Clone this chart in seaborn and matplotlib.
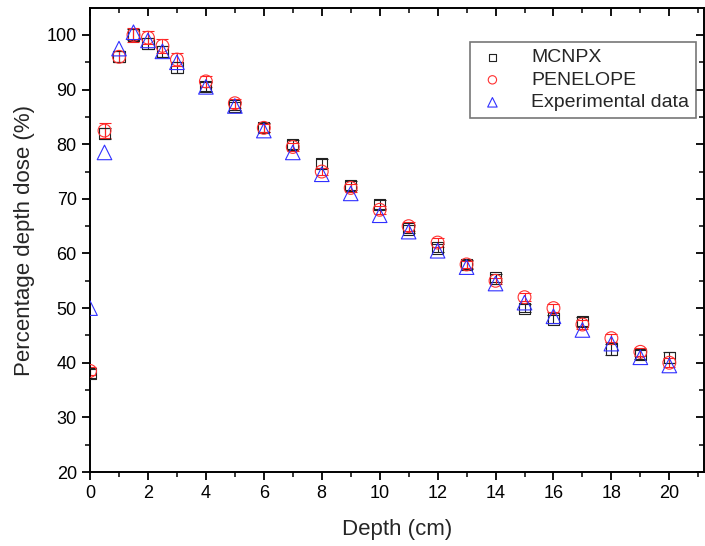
import numpy as np
import pandas as pd
import matplotlib
matplotlib.use("Agg")
import matplotlib.pyplot as plt
import seaborn as sns
from matplotlib.ticker import MultipleLocator

depth = [0, 0.5, 1, 1.5, 2, 2.5, 3, 4, 5, 6, 7, 8, 9, 10, 11, 12, 13, 14, 15, 16, 17, 18, 19, 20]
mcnpx = [38.0, 82.0, 96.0, 100.0, 98.5, 97.0, 94.0, 90.5, 87.0, 83.0, 80.0, 76.5, 72.5, 69.0,
         64.5, 61.0, 58.0, 55.5, 50.0, 48.0, 47.5, 42.5, 41.5, 41.0]
mcnpx_err = [0.8, 1.0, 1.0, 1.0, 1.0, 1.0, 1.0, 0.8, 0.8, 0.8, 0.8, 0.8, 0.8, 0.8,
             0.8, 0.8, 0.8, 0.8, 0.8, 0.8, 0.8, 1.0, 0.8, 1.0]
penelope = [38.5, 82.5, 96.0, 100.0, 99.5, 98.0, 95.5, 91.5, 87.5, 83.0, 79.5, 75.0, 72.0, 68.0,
            65.0, 62.0, 58.0, 55.0, 52.0, 50.0, 47.0, 44.5, 42.0, 40.0]
penelope_err = [0.8, 1.3, 1.0, 1.3, 1.2, 1.3, 1.2, 1.0, 0.8, 0.7, 0.7, 0.7, 0.8, 0.7,
                0.8, 0.8, 0.7, 0.6, 0.7, 0.7, 0.8, 0.7, 0.7, 0.8]
experimental = [50.0, 78.5, 97.5, 100.5, 99.0, 97.0, 95.0, 90.5, 87.0, 82.5, 78.5, 74.5, 71.0, 67.0,
                64.0, 60.5, 57.5, 54.5, 51.0, 48.5, 46.0, 43.5, 41.0, 39.5]

x_ticks = [0, 2, 4, 6, 8, 10, 12, 14, 16, 18, 20]
y_ticks = [20, 30, 40, 50, 60, 70, 80, 90, 100]

sns.set_theme(style="white")
plt.rcParams['font.family'] = ['Liberation Sans', 'DejaVu Sans']

fig = plt.figure(figsize=(7.05, 5.46), dpi=100)
ax = fig.add_axes([0.1277, 0.1355, 0.871, 0.8495])

df = pd.DataFrame({"depth": depth, "MCNPX": mcnpx, "PENELOPE": penelope,
                   "Experimental data": experimental})

ax.errorbar(depth, mcnpx, yerr=mcnpx_err, fmt='none', ecolor='#222222', elinewidth=0.8,
            capsize=4, capthick=0.8, zorder=2)
ax.errorbar(depth, penelope, yerr=penelope_err, fmt='none', ecolor='#ff2020', elinewidth=0.8,
            capsize=4, capthick=0.8, zorder=2)

sns.scatterplot(data=df, x="depth", y="MCNPX", marker='s', s=65, facecolor='none',
                edgecolor='#222222', linewidth=0.8, label="MCNPX", ax=ax, zorder=3)
sns.scatterplot(data=df, x="depth", y="PENELOPE", marker='o', s=85, facecolor='none',
                edgecolor='#ff3030', linewidth=0.8, label="PENELOPE", ax=ax, zorder=3)
sns.scatterplot(data=df, x="depth", y="Experimental data", marker='^', s=110, facecolor='none',
                edgecolor='#3030ff', linewidth=0.8, label="Experimental data", ax=ax, zorder=4)

ax.set_xlim(0, 21.2)
ax.set_ylim(20, 104.9)
ax.set_xticks(x_ticks)
ax.set_yticks(y_ticks)
ax.xaxis.set_minor_locator(MultipleLocator(1))
ax.yaxis.set_minor_locator(MultipleLocator(5))

for s in ax.spines.values():
    s.set_color('black')
    s.set_linewidth(1.4)

ax.tick_params(axis='both', which='major', direction='out', length=6, width=1.3,
               labelsize=13, colors='black', bottom=True, left=True)
ax.tick_params(axis='both', which='minor', direction='out', length=3.5, width=1.3,
               bottom=True, left=True)
ax.tick_params(axis='both', which='both', top=True, right=True)
for t in ax.xaxis.get_major_ticks() + ax.xaxis.get_minor_ticks():
    t.tick2line.set_marker(matplotlib.lines.TICKDOWN)
for t in ax.yaxis.get_major_ticks() + ax.yaxis.get_minor_ticks():
    t.tick2line.set_marker(matplotlib.lines.TICKLEFT)

ax.set_xlabel("Depth (cm)", fontsize=16, labelpad=12)
ax.set_ylabel("Percentage depth dose (%)", fontsize=16, labelpad=8)

leg = ax.legend(loc='upper right', bbox_to_anchor=(0.987, 0.927), borderaxespad=0,
                fontsize=14, frameon=True, fancybox=False, edgecolor='#555555',
                handletextpad=1.2, borderpad=0.35, labelspacing=0.25, markerscale=0.65,
                handlelength=1.6)
leg.get_frame().set_linewidth(1.2)

fig.savefig("out.png", dpi=100)
